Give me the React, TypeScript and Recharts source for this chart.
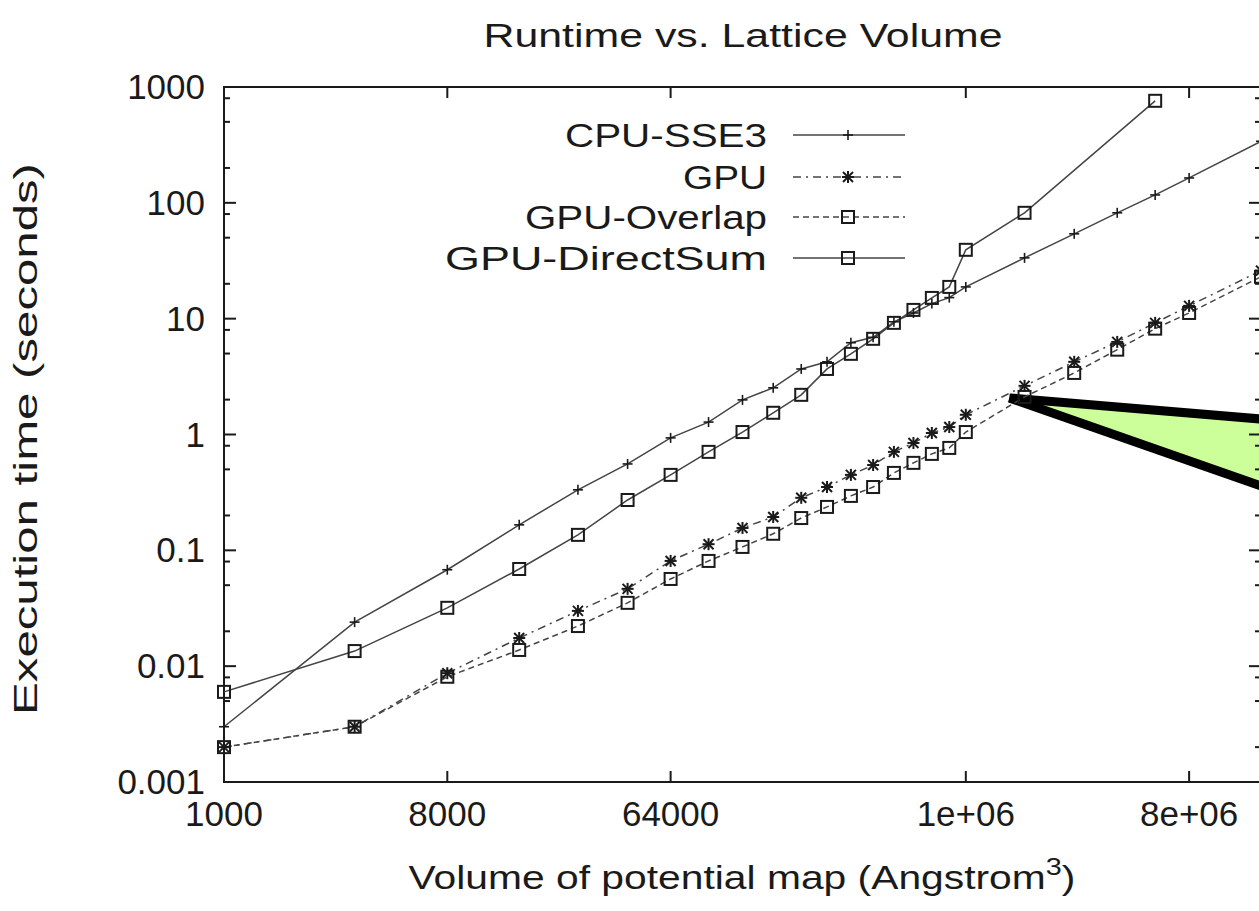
import React from 'react';
import { ComposedChart, Line, Area, XAxis, YAxis, ReferenceArea } from 'recharts';

// ---------- data ----------
const volumes = [
  1000, 3375, 8000, 15625, 27000, 42875, 64000, 91125, 125000, 166375, 216000, 274625,
  343000, 421875, 512000, 614125, 729000, 857375, 1000000, 1728000, 2744000, 4096000,
  5832000, 8000000, 15625000,
];
const cpuSse3 = [
  0.003, 0.024, 0.068, 0.166, 0.333, 0.557, 0.935, 1.28, 1.99, 2.53, 3.68, 4.24,
  6.2, 6.9, 9.4, 11.2, 13.5, 15.2, 18.8, 33.5, 54, 82, 117, 164, 340,
];
const gpu = [
  0.002, 0.003, 0.0087, 0.0175, 0.03, 0.0465, 0.081, 0.113, 0.156, 0.194, 0.284, 0.352,
  0.448, 0.545, 0.708, 0.845, 1.03, 1.16, 1.48, 2.63, 4.24, 6.3, 9.2, 12.9, 26,
];
const gpuOverlap = [
  0.002, 0.003, 0.0081, 0.0138, 0.0222, 0.0352, 0.0566, 0.081, 0.107, 0.139, 0.19, 0.237,
  0.295, 0.352, 0.466, 0.569, 0.68, 0.766, 1.05, 2.11, 3.4, 5.4, 8.2, 11.2, 23,
];
const directSumVolumes = [
  1000, 3375, 8000, 15625, 27000, 42875, 64000, 91125, 125000, 166375, 216000, 274625,
  343000, 421875, 512000, 614125, 729000, 857375, 1000000, 1728000, 5832000,
];
const gpuDirectSum = [
  0.006, 0.0135, 0.0319, 0.069, 0.136, 0.272, 0.448, 0.708, 1.05, 1.54, 2.2, 3.68,
  4.97, 6.7, 9.2, 11.9, 15.1, 18.8, 39.3, 82, 760,
];

const xTicks = [1000, 8000, 64000, 1000000, 8000000];
const xTickLabels = ['1000', '8000', '64000', '1e+06', '8e+06'];
const yMajorTicks = [0.001, 0.01, 0.1, 1, 10, 100, 1000];
const yMajorLabels = ['0.001', '0.01', '0.1', '1', '10', '100', '1000'];
const yMinorTicks = [
  0.002, 0.005, 0.008, 0.02, 0.05, 0.08, 0.2, 0.5, 0.8, 2, 5, 8, 20, 50, 80, 200, 500, 800,
];

// callout annotation (data coordinates)
const calloutVolumes = [1500000, 15625000];
const calloutLow = [2.07, 0.36];
const calloutHigh = [2.07, 1.36];

const seriesNames = ['CPU-SSE3', 'GPU', 'GPU-Overlap', 'GPU-DirectSum'];
const titleText = 'Runtime vs. Lattice Volume';
const xLabelText = 'Volume of potential map (Angstrom';
const yLabelText = 'Execution time (seconds)';

// ---------- layout ----------
const CHART_W = 1281;
const CHART_H = 911;
const PLOT_LEFT = 224;
const PLOT_TOP = 87;
const PLOT_RIGHT = 1261;
const PLOT_BOTTOM = 782;
const FONT = '"Liberation Sans", Arial, Helvetica, sans-serif';
const INK = '#1a1a1a';
const LINE_INK = '#444444';

const rows = (xs: number[], ys: number[]) => xs.map((v, i) => ({ v, s: ys[i] }));
const cpuRows = rows(volumes, cpuSse3);
const gpuRows = rows(volumes, gpu);
const overlapRows = rows(volumes, gpuOverlap);
const directRows = rows(directSumVolumes, gpuDirectSum);
const calloutRows = calloutVolumes.map((v, i) => ({ v, r: [calloutLow[i], calloutHigh[i]] }));

// ---------- markers ----------
const plusShape = (cx: number, cy: number, k: string) => (
  <g key={k}>
    <line x1={cx - 5} x2={cx + 5} y1={cy} y2={cy} stroke={INK} strokeWidth={1.6} />
    <line x1={cx} x2={cx} y1={cy - 5} y2={cy + 5} stroke={INK} strokeWidth={1.6} />
  </g>
);
const starShape = (cx: number, cy: number, k: string) => (
  <g key={k}>
    <line x1={cx - 6} x2={cx + 6} y1={cy} y2={cy} stroke={INK} strokeWidth={2} />
    <line x1={cx} x2={cx} y1={cy - 6} y2={cy + 6} stroke={INK} strokeWidth={2} />
    <line x1={cx - 5} x2={cx + 5} y1={cy - 5} y2={cy + 5} stroke={INK} strokeWidth={2} />
    <line x1={cx - 5} x2={cx + 5} y1={cy + 5} y2={cy - 5} stroke={INK} strokeWidth={2} />
  </g>
);
const squareShape = (cx: number, cy: number, k: string) => (
  <rect key={k} x={cx - 6} y={cy - 6} width={12} height={12} fill="none" stroke={INK} strokeWidth={2} />
);

const PlusDot = (p: any) => (p.cx == null ? <g key={`pl${p.index}`} /> : plusShape(p.cx, p.cy, `pl${p.index}`));
const StarDot = (p: any) => (p.cx == null ? <g key={`st${p.index}`} /> : starShape(p.cx, p.cy, `st${p.index}`));
const SquareDot = (p: any) => (p.cx == null ? <g key={`sq${p.index}`} /> : squareShape(p.cx, p.cy, `sq${p.index}`));

// ---------- axis ticks ----------
const XTick = (p: any) => {
  const x = p.x;
  const idx = xTicks.indexOf(p.payload.value);
  return (
    <g>
      <line x1={x} x2={x} y1={PLOT_BOTTOM} y2={PLOT_BOTTOM - 11} stroke={INK} strokeWidth={2} />
      <line x1={x} x2={x} y1={PLOT_TOP} y2={PLOT_TOP + 11} stroke={INK} strokeWidth={2} />
      <text x={x} y={826} textAnchor="middle" fontFamily={FONT} fontSize={35} fill={INK}>
        {idx >= 0 ? xTickLabels[idx] : ''}
      </text>
    </g>
  );
};

const YTick = (p: any) => {
  const y = p.y;
  const v = p.payload.value;
  const idx = yMajorTicks.indexOf(v);
  const major = idx >= 0;
  const len = major ? 12 : 6;
  return (
    <g>
      <line x1={PLOT_LEFT} x2={PLOT_LEFT + len} y1={y} y2={y} stroke={INK} strokeWidth={2} />
      <line x1={PLOT_RIGHT} x2={PLOT_RIGHT - len} y1={y} y2={y} stroke={INK} strokeWidth={2} />
      {major && (
        <text x={205} y={y + 12} textAnchor="end" fontFamily={FONT} fontSize={35} fill={INK}>
          {yMajorLabels[idx]}
        </text>
      )}
    </g>
  );
};

// ---------- legend ----------
const legendRowsY = [135, 177, 217, 258];
const legendTextWidths = [202, 84, 242, 322];
const legendDash = [undefined, '8 5 2 5', '6 4', undefined];
const legendMarker = [plusShape, starShape, squareShape, squareShape];

export default function App() {
  return (
    <div
      style={{
        position: 'fixed',
        left: 0,
        top: 0,
        width: 1259,
        height: 911,
        overflow: 'hidden',
        background: '#ffffff',
      }}
    >
      <ComposedChart
        width={CHART_W}
        height={CHART_H}
        margin={{ top: PLOT_TOP, right: CHART_W - PLOT_RIGHT, bottom: 0, left: 0 }}
      >
        <XAxis
          dataKey="v"
          type="number"
          scale="log"
          domain={[1000, 15625000]}
          ticks={xTicks}
          interval={0}
          height={CHART_H - PLOT_BOTTOM}
          axisLine={false}
          tickLine={false}
          tick={<XTick />}
        />
        <YAxis
          type="number"
          scale="log"
          domain={[0.001, 1000]}
          ticks={[...yMajorTicks, ...yMinorTicks].sort((a, b) => a - b)}
          interval={0}
          width={PLOT_LEFT}
          axisLine={false}
          tickLine={false}
          tick={<YTick />}
        />
        <ReferenceArea
          x1={1000}
          x2={15625000}
          y1={0.001}
          y2={1000}
          fill="none"
          stroke={INK}
          strokeWidth={2}
          ifOverflow="visible"
        />
        <Line
          data={cpuRows}
          dataKey="s"
          type="linear"
          stroke={LINE_INK}
          strokeWidth={1.5}
          dot={PlusDot}
          activeDot={false}
          isAnimationActive={false}
          name={seriesNames[0]}
        />
        <Line
          data={gpuRows}
          dataKey="s"
          type="linear"
          stroke={LINE_INK}
          strokeWidth={1.5}
          strokeDasharray="8 5 2 5"
          dot={StarDot}
          activeDot={false}
          isAnimationActive={false}
          name={seriesNames[1]}
        />
        <Line
          data={overlapRows}
          dataKey="s"
          type="linear"
          stroke={LINE_INK}
          strokeWidth={1.5}
          strokeDasharray="6 4"
          dot={SquareDot}
          activeDot={false}
          isAnimationActive={false}
          name={seriesNames[2]}
        />
        <Line
          data={directRows}
          dataKey="s"
          type="linear"
          stroke={LINE_INK}
          strokeWidth={1.5}
          dot={SquareDot}
          activeDot={false}
          isAnimationActive={false}
          name={seriesNames[3]}
        />
        <Area
          data={calloutRows}
          dataKey="r"
          type="linear"
          stroke="#000000"
          strokeWidth={9}
          strokeLinejoin="miter"
          fill="#ccff99"
          fillOpacity={1}
          dot={false}
          activeDot={false}
          legendType="none"
          isAnimationActive={false}
        />
      </ComposedChart>
      <svg
        width={1259}
        height={911}
        style={{ position: 'absolute', left: 0, top: 0, pointerEvents: 'none' }}
      >
        <text
          x={743}
          y={47}
          textAnchor="middle"
          fontFamily={FONT}
          fontSize={34}
          fill={INK}
          textLength={519}
          lengthAdjust="spacingAndGlyphs"
        >
          {titleText}
        </text>
        <g transform="translate(742, 889) scale(1.2, 1)">
          <text x={0} y={0} textAnchor="middle" fontFamily={FONT} fontSize={34} fill={INK}>
            <tspan>{xLabelText}</tspan>
            <tspan dy={-14} fontSize={24}>3</tspan>
            <tspan dy={14}>)</tspan>
          </text>
        </g>
        <g transform="translate(37, 439) rotate(-90)">
          <text
            x={0}
            y={0}
            textAnchor="middle"
            fontFamily={FONT}
            fontSize={33}
            fill={INK}
            textLength={552}
            lengthAdjust="spacingAndGlyphs"
          >
            {yLabelText}
          </text>
        </g>
        {seriesNames.map((name, i) => (
          <g key={name}>
            <text
              x={767 - legendTextWidths[i]}
              y={legendRowsY[i] + 12}
              fontFamily={FONT}
              fontSize={34}
              fill={INK}
              textLength={legendTextWidths[i]}
              lengthAdjust="spacingAndGlyphs"
            >
              {name}
            </text>
            <line
              x1={793}
              x2={905}
              y1={legendRowsY[i]}
              y2={legendRowsY[i]}
              stroke={LINE_INK}
              strokeWidth={1.5}
              strokeDasharray={legendDash[i]}
            />
            {legendMarker[i](848, legendRowsY[i], `lm${i}`)}
          </g>
        ))}
      </svg>
    </div>
  );
}
